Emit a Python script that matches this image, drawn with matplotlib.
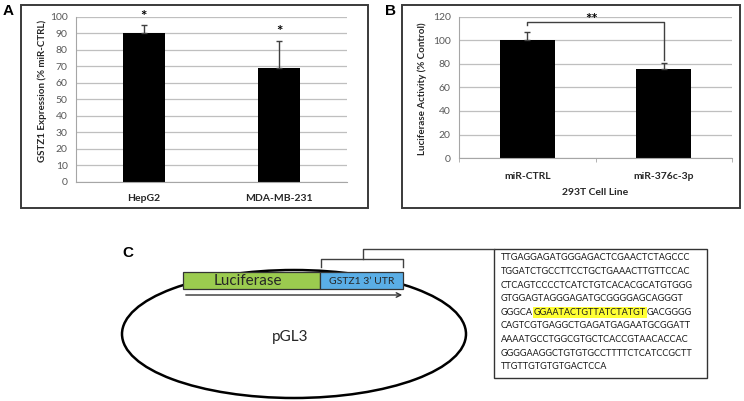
import matplotlib.pyplot as plt
from matplotlib.patches import Rectangle, Ellipse

plt.rcParams['font.family'] = ['Lato', 'DejaVu Sans']

# Panel A data
a_labels = ['HepG2', 'MDA-MB-231']
a_values = [90, 69]
a_err = [5, 16.5]
a_yticks = list(range(0, 101, 10))

# Panel B data
b_labels = ['miR-CTRL', 'miR-376c-3p']
b_values = [100, 76]
b_err = [7, 5]
b_yticks = list(range(0, 121, 20))

# Panel C sequence
seq_lines = [
    'TTGAGGAGATGGGAGACTCGAACTCTAGCCC',
    'TGGATCTGCCTTCCTGCTGAAACTTGTTCCAC',
    'CTCAGTCCCCTCATCTGTCACACGCATGTGGG',
    'GTGGAGTAGGGAGATGCGGGGAGCAGGGT',
    ('GGGCA', 'GGAATACTGTTATCTATGT', 'GACGGGG'),
    'CAGTCGTGAGGCTGAGATGAGAATGCGGATT',
    'AAAATGCCTGGCGTGCTCACCGTAACACCAC',
    'GGGGAAGGCTGTGTGCCTTTTCTCATCCGCTT',
    'TTGTTGTGTGTGACTCCA',
]

W, H = 744, 401
fig = plt.figure(figsize=(W / 100, H / 100), dpi=100)


def px_axes(l, t, r, b):
    return fig.add_axes([l / W, 1 - b / H, (r - l) / W, (b - t) / H])


# overlay in pixel coordinates for frames and the diagram
ov = fig.add_axes([0, 0, 1, 1], zorder=0)
ov.set_xlim(0, W)
ov.set_ylim(H, 0)
ov.axis('off')

frame_col = '#3a3a3a'
ov.add_patch(Rectangle((21, 5), 347, 203, fill=False, ec=frame_col, lw=1.4))
ov.add_patch(Rectangle((402, 5), 338, 203, fill=False, ec=frame_col, lw=1.4))

label_font = dict(family='Liberation Sans', fontsize=11, fontweight='bold', va='center')
ov.text(3, 11, 'A', **label_font)
ov.text(385, 11, 'B', **label_font)
ov.text(122, 253, 'C', **label_font)

grid_col = '#bfbfbf'
tick_col = '#595959'


def style_axes(ax):
    ax.set_facecolor('none')
    for s in ['top', 'right']:
        ax.spines[s].set_visible(False)
    ax.spines['left'].set_color('#a6a6a6')
    ax.spines['bottom'].set_color('#a6a6a6')
    ax.yaxis.grid(True, color=grid_col, lw=0.9)
    ax.set_axisbelow(True)
    ax.tick_params(axis='y', length=0, pad=6, labelsize=7.5, labelcolor=tick_col)
    ax.tick_params(axis='x', length=0, labelsize=7.5)
    for t in ax.get_xticklabels():
        t.set_fontweight('bold')
        t.set_color('#262626')


# Panel A
axA = px_axes(76, 17, 347, 182)
axA.set_zorder(1)
xa = list(range(len(a_labels)))
axA.bar(xa, a_values, width=0.31, color='black')
axA.errorbar(xa, a_values, yerr=[[0] * len(a_err), a_err], fmt='none',
             ecolor='#404040', elinewidth=1, capsize=2.5, capthick=1)
for x, v, e in zip(xa, a_values, a_err):
    axA.text(x, v + e + 1, '*', ha='center', va='bottom', fontsize=11, fontweight='bold')
axA.set_xlim(-0.5, 1.5)
axA.set_ylim(0, 100)
axA.set_yticks(a_yticks)
axA.set_xticks(xa)
axA.set_xticklabels(a_labels)
style_axes(axA)
axA.tick_params(axis='x', pad=9)
axA.set_ylabel('GSTZ1 Expression (% miR-CTRL)', fontsize=7, fontweight='bold', color='#262626')
axA.yaxis.set_label_coords(-0.108, 0.55)

# Panel B
axB = px_axes(459, 17, 732, 158)
axB.set_zorder(1)
xb = list(range(len(b_labels)))
axB.bar(xb, b_values, width=0.4, color='black')
axB.errorbar(xb, b_values, yerr=[[0] * len(b_err), b_err], fmt='none',
             ecolor='#404040', elinewidth=1, capsize=2.5, capthick=1)
axB.plot([0, 0, 1, 1], [113, 115.7, 115.7, 83.5], color='#404040', lw=1)
axB.text(0.47, 117.5, '**', ha='center', va='center', fontsize=11, fontweight='bold')
axB.set_xlim(-0.5, 1.5)
axB.set_ylim(0, 120)
axB.set_yticks(b_yticks)
axB.set_xticks(xb)
axB.set_xticklabels(b_labels)
style_axes(axB)
axB.set_xticks([-0.5, 0.5, 1.5], minor=True)
axB.tick_params(axis='x', which='minor', length=3, color='#a6a6a6', direction='out')
axB.tick_params(axis='x', pad=10)
axB.set_xlabel('293T Cell Line', fontsize=7.5, fontweight='bold', color='#262626', labelpad=5)
axB.set_ylabel('Luciferase Activity (% Control)', fontsize=7, fontweight='bold', color='#262626')
axB.yaxis.set_label_coords(-0.118, 0.49)

# Panel C diagram
ov.add_patch(Ellipse((294, 334), 344, 128, fill=False, ec='black', lw=1.8, zorder=2))
ov.add_patch(Rectangle((183, 272), 137, 17, fc='#9bcb4f', ec='#333333', lw=0.9, zorder=3))
ov.add_patch(Rectangle((320, 272), 83, 17, fc='#5aaee6', ec='#333333', lw=0.9, zorder=3))
ov.text(248, 281, 'Luciferase', ha='center', va='center', fontsize=11, color='#262626', zorder=4)
ov.text(362, 281, 'GSTZ1 3\u2019 UTR', ha='center', va='center', fontsize=7.5, color='#262626', zorder=4)
ov.text(290, 337, 'pGL3', ha='center', va='center', fontsize=11, color='#262626')
ov.annotate('', xy=(405, 295), xytext=(183, 295),
            arrowprops=dict(arrowstyle='->', color='#333333', lw=1, mutation_scale=8))
# brace over the UTR leading to the sequence box
ov.plot([321, 321, 403, 403], [267, 259, 259, 267], color='#404040', lw=1)
ov.plot([363, 363, 494], [259, 249, 249], color='#404040', lw=1)

# sequence box
ov.add_patch(Rectangle((494, 249), 213, 129, fill=False, ec='#333333', lw=1))
seq_font = dict(fontsize=6.6, color='#1a1a1a', va='center', ha='left')
for i, line in enumerate(seq_lines):
    y = 258 + i * 13.6
    if isinstance(line, tuple):
        t = ov.text(501, y, line[0], **seq_font)
        t = ov.annotate(line[1], xy=(1, 0.5), xycoords=t, xytext=(0.5, 0), textcoords='offset points',
                        bbox=dict(boxstyle='square,pad=0.1', fc='#ffff33', ec='none'), **seq_font)
        ov.annotate(line[2], xy=(1, 0.5), xycoords=t, xytext=(0.5, 0), textcoords='offset points', **seq_font)
    else:
        ov.text(501, y, line, **seq_font)

fig.savefig('out.png', dpi=100)
